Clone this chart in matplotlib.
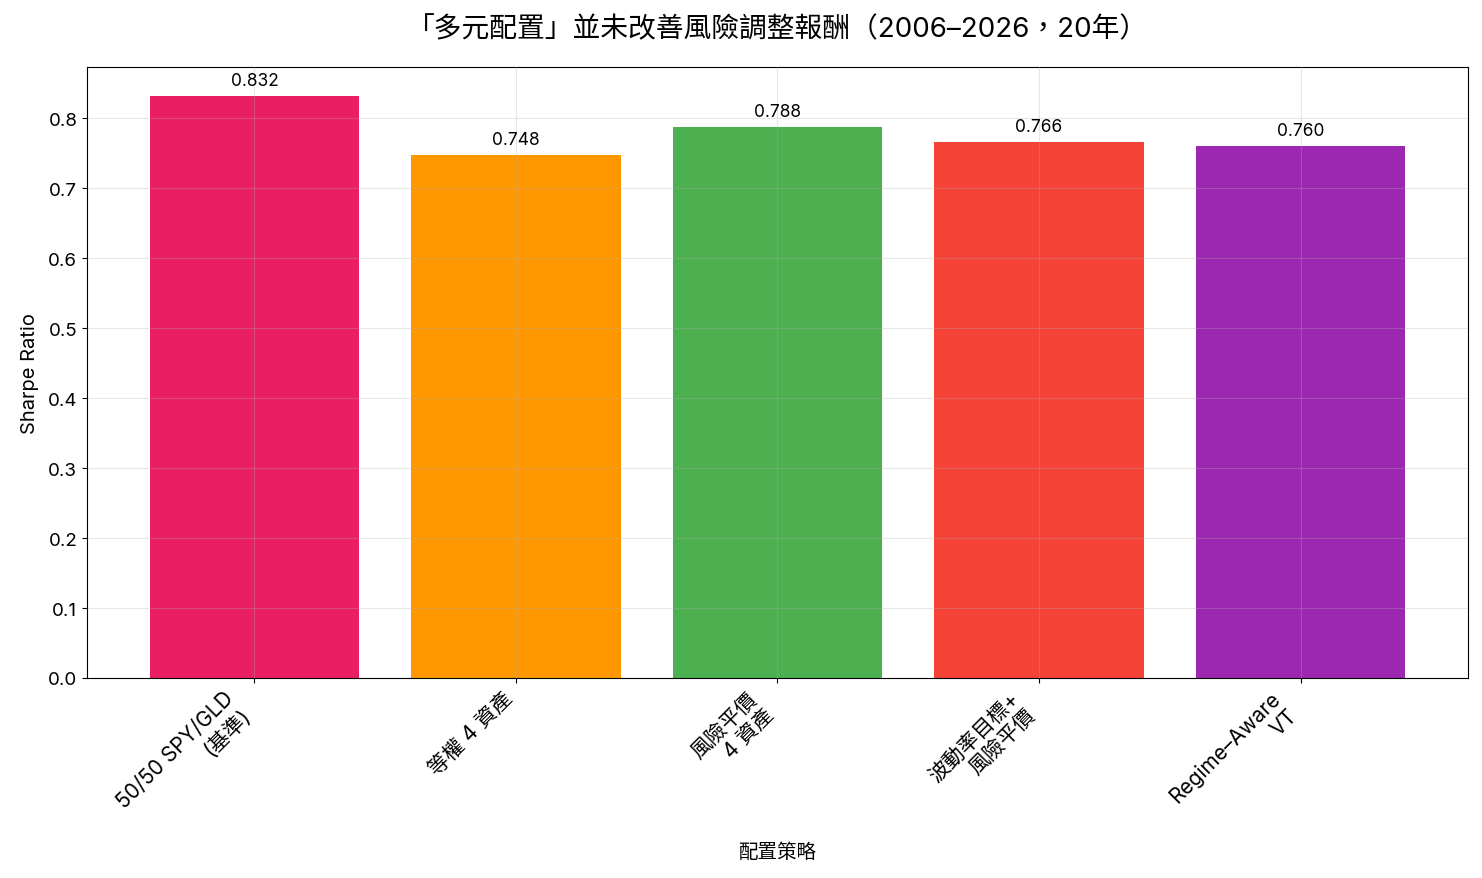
import matplotlib
matplotlib.use('Agg')
import matplotlib.pyplot as plt

plt.rcParams['font.family'] = ['Inter', 'Noto Sans CJK TC', 'DejaVu Sans']
plt.rcParams['axes.unicode_minus'] = False

# 資料
strategies = ['50/50 SPY/GLD\n(基準)', '等權 4 資產', '風險平價\n4 資產', '波動率目標+\n風險平價', 'Regime–Aware\nVT']
sharpe = [0.832, 0.748, 0.788, 0.766, 0.760]
colors = ['#E91E63', '#FF9800', '#4CAF50', '#F44336', '#9C27B0']

fig = plt.figure(figsize=(14.82, 8.79), dpi=100)
ax = fig.add_axes([87 / 1482, 1 - 679 / 879, (1468 - 87) / 1482, (679 - 68) / 879])

x = range(len(strategies))
bars = ax.bar(x, sharpe, color=colors, width=0.8)
for b, v in zip(bars, sharpe):
    ax.text(b.get_x() + b.get_width() / 2, v + 0.01, f'{v:.3f}',
            ha='center', va='bottom', fontsize=12.5)

ax.set_xticks(list(x))
ax.set_xticklabels(strategies, rotation=45, ha='right', fontsize=15)
ax.tick_params(axis='y', labelsize=13.5)
ax.set_ylim(0, max(sharpe) * 1.05)
ax.set_ylabel('Sharpe Ratio', fontsize=14.5, labelpad=6)
ax.set_xlabel('配置策略', fontsize=14, labelpad=10)
ax.set_title('「多元配置」並未改善風險調整報酬（2006–2026，20年）', fontsize=20, pad=22)
ax.grid(True, alpha=0.3)
ax.set_axisbelow(False)

plt.savefig('out.png', dpi=100)
plt.close()
